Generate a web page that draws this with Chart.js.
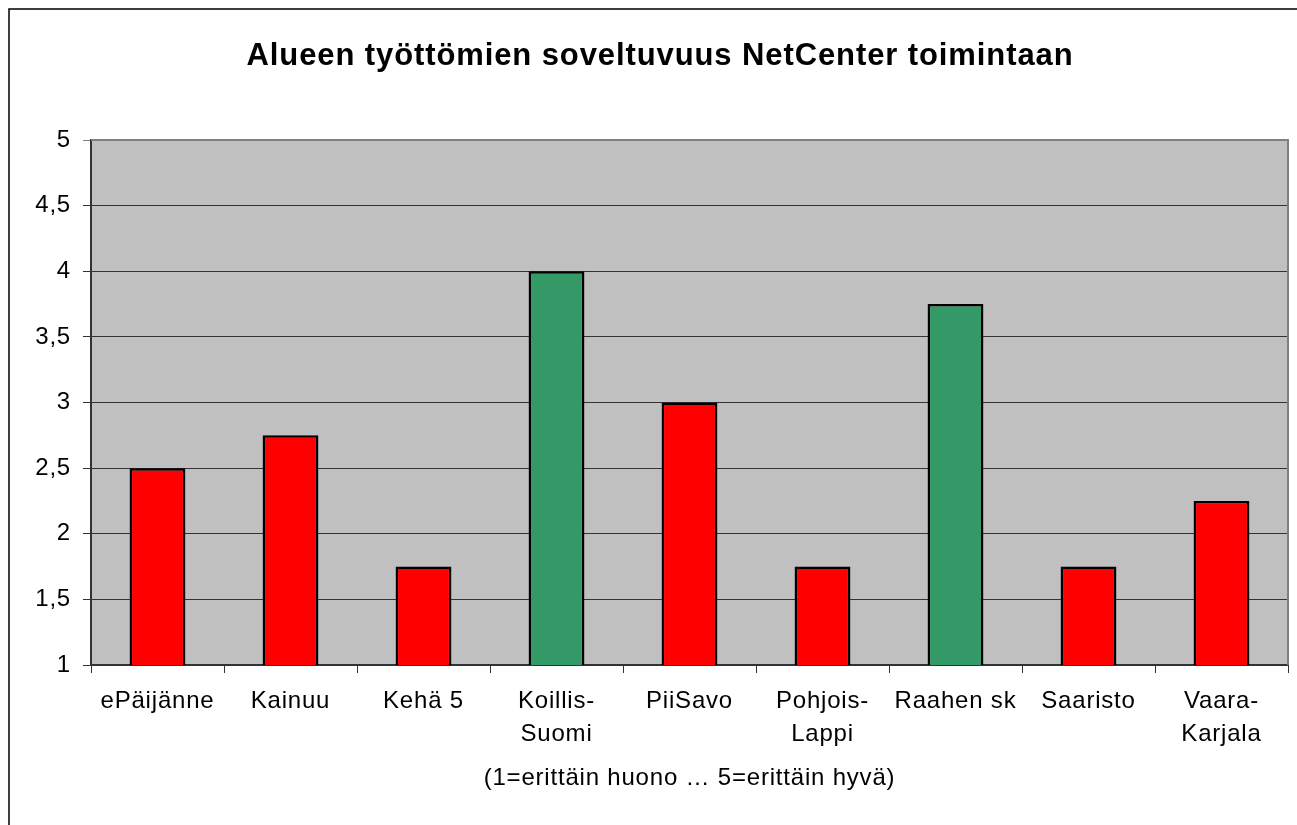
<!DOCTYPE html>
<html>
<head>
<meta charset="utf-8">
<script src="https://cdn.jsdelivr.net/npm/chart.js@4.4.1/dist/chart.umd.min.js"></script>
<style>
  html, body { margin: 0; padding: 0; background: #fff; }
  #wrap { width: 1297px; height: 825px; }
</style>
</head>
<body>
<div id="wrap"><canvas id="chart" width="1297" height="825"></canvas></div>
<script>
// Chart data
const categories = [
    'ePäijänne', 'Kainuu', 'Kehä 5', ['Koillis-', 'Suomi'], 'PiiSavo',
    ['Pohjois-', 'Lappi'], 'Raahen sk', 'Saaristo', ['Vaara-', 'Karjala']
];
const values = [2.5, 2.75, 1.75, 4, 3, 1.75, 3.75, 1.75, 2.25];
const barColors = ['#FF0000', '#FF0000', '#FF0000', '#339966', '#FF0000',
    '#FF0000', '#339966', '#FF0000', '#FF0000'];
const chartTitle = 'Alueen työttömien soveltuvuus NetCenter toimintaan';
const xAxisTitle = '(1=erittäin huono … 5=erittäin hyvä)';

const FONT = "'Liberation Sans', Arial, sans-serif";

// Page background, outer frame, plot background and title
const framePlugin = {
    id: 'frame',
    beforeDraw(chart) {
        const ctx = chart.ctx;
        const a = chart.chartArea;
        ctx.save();
        ctx.fillStyle = '#fff';
        ctx.fillRect(0, 0, chart.width, chart.height);
        ctx.strokeStyle = '#000';
        ctx.lineWidth = 1.5;
        ctx.strokeRect(9, 9, chart.width + 20, chart.height + 20);
        ctx.fillStyle = '#C0C0C0';
        ctx.fillRect(a.left, a.top, a.right - a.left, a.bottom - a.top);
        ctx.fillStyle = '#000';
        ctx.font = 'bold 31px ' + FONT;
        ctx.letterSpacing = '0.9px';
        ctx.textAlign = 'center';
        ctx.textBaseline = 'middle';
        ctx.fillText(chartTitle, 660, 56);
        ctx.restore();
        // the labels in the original are slightly spaced out
        ctx.letterSpacing = '0.8px';
    },
    beforeDatasetsDraw(chart) {
        const ctx = chart.ctx;
        const a = chart.chartArea;
        ctx.save();
        ctx.strokeStyle = '#808080';
        ctx.lineWidth = 2;
        ctx.beginPath();
        ctx.moveTo(a.left, a.top);
        ctx.lineTo(a.right, a.top);
        ctx.lineTo(a.right, a.bottom);
        ctx.stroke();
        ctx.restore();
    }
};

new Chart(document.getElementById('chart'), {
    type: 'bar',
    data: {
        labels: categories,
        datasets: [{
            data: values,
            backgroundColor: barColors,
            borderColor: '#000',
            borderWidth: 2.5,
            barPercentage: 0.42,
            categoryPercentage: 1
        }]
    },
    options: {
        responsive: false,
        animation: false,
        layout: { padding: { top: 140, right: 9, left: 0, bottom: 0 } },
        plugins: {
            legend: { display: false },
            title: { display: false },
            tooltip: { enabled: false }
        },
        scales: {
            x: {
                offset: true,
                grid: {
                    offset: true,
                    drawOnChartArea: false,
                    drawTicks: true,
                    tickLength: 8,
                    color: '#333'
                },
                border: { color: '#333', width: 2 },
                ticks: {
                    color: '#000',
                    font: { family: FONT, size: 24, lineHeight: 1.36 },
                    padding: 12,
                    maxRotation: 0,
                    autoSkip: false
                },
                title: {
                    display: true,
                    text: xAxisTitle,
                    color: '#000',
                    font: { family: FONT, size: 24, lineHeight: 1.2 },
                    padding: { top: 0, bottom: 32 }
                },
                afterFit(scale) { scale.height = 160; }
            },
            y: {
                min: 1,
                max: 5,
                grid: {
                    color: ctx => (ctx.tick && ctx.tick.value === 5) ? '#808080' : '#333',
                    lineWidth: 1,
                    tickLength: 8
                },
                border: { color: '#333', width: 2 },
                ticks: {
                    stepSize: 0.5,
                    color: '#000',
                    font: { family: FONT, size: 24 },
                    padding: 12,
                    callback: v => String(v).replace('.', ',')
                },
                afterFit(scale) { scale.width = 91; }
            }
        }
    },
    plugins: [framePlugin]
});
</script>
</body>
</html>
